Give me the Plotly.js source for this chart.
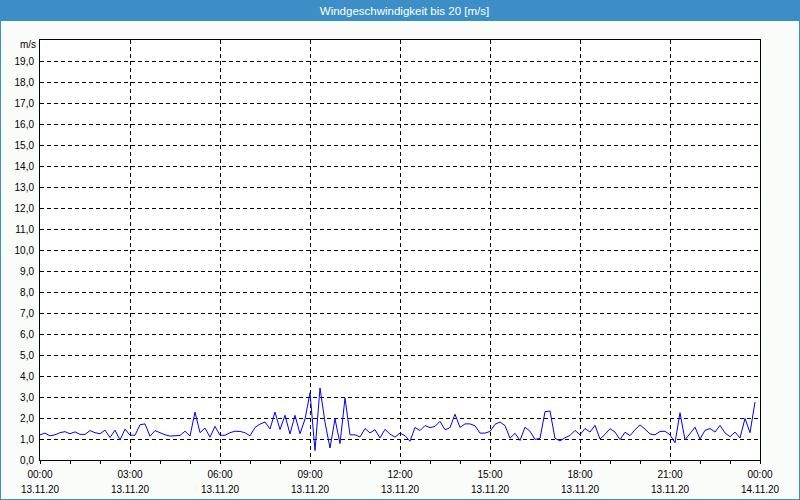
<!DOCTYPE html>
<html>
<head>
<meta charset="utf-8">
<script src="https://cdn.plot.ly/plotly-3.0.1.min.js"></script>
<style>
html,body{margin:0;padding:0;background:#fafcfa;}
#chart{width:800px;height:500px;}
</style>
</head>
<body>
<div id="chart"></div>
<script>
// Wind speed, 10-minute samples starting 13.11.20 00:00 (m/s)
const startDay = '2020-11-13';
const stepMinutes = 10;
const windSpeed = [
  1.20, 1.28, 1.15, 1.20, 1.30, 1.35, 1.25, 1.34, 1.22, 1.22, 1.40, 1.30,
  1.25, 1.42, 1.07, 1.42, 0.95, 1.47, 1.18, 1.18, 1.68, 1.72, 1.13, 1.40,
  1.30, 1.20, 1.14, 1.15, 1.17, 1.37, 1.14, 2.28, 1.30, 1.52, 1.09, 1.60,
  1.18, 1.18, 1.30, 1.37, 1.36, 1.30, 1.15, 1.55, 1.71, 1.81, 1.48, 2.28,
  1.45, 2.13, 1.24, 2.13, 1.25, 1.95, 3.20, 0.45, 3.43, 1.80, 0.57, 1.96,
  0.78, 2.95, 1.20, 1.20, 1.10, 1.50, 1.29, 1.44, 1.05, 1.46, 1.23, 1.09,
  1.28, 1.16, 0.89, 1.55, 1.40, 1.64, 1.54, 1.60, 1.84, 1.44, 1.54, 2.18,
  1.55, 1.72, 1.72, 1.63, 1.28, 1.28, 1.36, 1.70, 1.81, 1.64, 1.04, 1.27,
  0.93, 1.56, 1.37, 0.98, 1.03, 2.30, 2.33, 1.03, 0.91, 1.06, 1.17, 1.41,
  1.20, 1.50, 1.33, 1.65, 1.00, 1.22, 1.49, 1.33, 0.97, 1.32, 1.16, 1.44,
  1.67, 1.47, 1.24, 1.20, 1.36, 1.37, 1.20, 0.82, 2.25, 0.96, 1.24, 1.56,
  1.00, 1.41, 1.50, 1.33, 1.65, 1.29, 1.11, 1.33, 1.05, 1.98, 1.30, 2.76
];

const xTickVals = [
  '2020-11-13 00:00', '2020-11-13 03:00', '2020-11-13 06:00', '2020-11-13 09:00',
  '2020-11-13 12:00', '2020-11-13 15:00', '2020-11-13 18:00', '2020-11-13 21:00',
  '2020-11-14 00:00'
];
const xTimeLabels = ['00:00','03:00','06:00','09:00','12:00','15:00','18:00','21:00','00:00'];
const xDateLabels = ['13.11.20','13.11.20','13.11.20','13.11.20','13.11.20','13.11.20','13.11.20','13.11.20','14.11.20'];

const yTickVals = [0,1,2,3,4,5,6,7,8,9,10,11,12,13,14,15,16,17,18,19];
const yTickText = ['0,0','1,0','2,0','3,0','4,0','5,0','6,0','7,0','8,0','9,0',
  '10,0','11,0','12,0','13,0','14,0','15,0','16,0','17,0','18,0','19,0'];
const yUnit = 'm/s';
const chartTitle = 'Windgeschwindigkeit bis 20 [m/s]';

function pad2(n){ return (n < 10 ? '0' : '') + n; }
const times = windSpeed.map(function(_, i){
  const m = i * stepMinutes;
  return startDay + ' ' + pad2(Math.floor(m / 60)) + ':' + pad2(m % 60);
});

const FONT = 'Liberation Sans, Arial, sans-serif';
const BLUE = '#3c8fc6';
const L = 40, R = 40, T = 40, B = 40, W = 800, H = 500;
const pw = W - L - R, ph = H - T - B;

const xTickText = xTimeLabels.map(function(t, i){
  return '<span style="font-size:10px">' + t + '</span><br><span style="font-size:10px">' + xDateLabels[i] + '</span>';
});

const trace = {
  x: times,
  y: windSpeed,
  type: 'scatter',
  mode: 'lines',
  line: {color: '#0000ff', width: 1},
  hoverinfo: 'x+y'
};

const layout = {
  width: W, height: H,
  margin: {l: L, r: R, t: T, b: B, pad: 0},
  paper_bgcolor: '#fafcfa',
  plot_bgcolor: '#ffffff',
  showlegend: false,
  font: {family: FONT, size: 10, color: '#000'},
  title: {
    text: chartTitle,
    font: {family: FONT, size: 11.5, color: '#ffffff'},
    xref: 'container', x: 0.5056, xanchor: 'center',
    yref: 'container', y: 1 - 10.5 / H, yanchor: 'middle'
  },
  xaxis: {
    type: 'date',
    range: ['2020-11-13 00:00', '2020-11-14 00:00'],
    tickmode: 'array',
    tickvals: xTickVals,
    ticktext: xTickText,
    ticks: 'outside', ticklen: 3, tickcolor: '#000', tickwidth: 1,
    tickfont: {family: FONT, size: 11.5, color: '#000'},
    showgrid: true, gridcolor: '#000', gridwidth: 1, griddash: '4px,3px',
    showline: true, mirror: true, linecolor: '#000', linewidth: 1,
    zeroline: false, fixedrange: true,
    minor: {
      tickmode: 'linear', tick0: '2020-11-13 00:00', dtick: 3600000,
      ticks: 'outside', ticklen: 3, tickcolor: '#000', tickwidth: 1,
      showgrid: false
    }
  },
  yaxis: {
    range: [0, 20],
    tickmode: 'array',
    tickvals: yTickVals,
    ticktext: yTickText,
    ticks: '', ticklabelstandoff: 3,
    tickfont: {family: FONT, size: 10, color: '#000'},
    showgrid: true, gridcolor: '#000', gridwidth: 1, griddash: '4px,3px',
    showline: true, mirror: true, linecolor: '#000', linewidth: 1,
    zeroline: false, fixedrange: true
  },
  annotations: [{
    text: yUnit, showarrow: false,
    xref: 'paper', x: 0, xshift: -2, xanchor: 'right',
    yref: 'paper', y: 1, yshift: -4, yanchor: 'middle',
    font: {family: FONT, size: 10, color: '#000'}
  }],
  shapes: [
    {
      type: 'rect', xref: 'paper', yref: 'paper', layer: 'below',
      x0: -L / pw, x1: 1 + R / pw, y0: 1 + (T - 21) / ph, y1: 1 + T / ph,
      fillcolor: BLUE, line: {width: 0}
    },
    {
      type: 'rect', xref: 'paper', yref: 'paper', layer: 'above',
      x0: -L / pw, x1: 1 + R / pw, y0: -B / ph, y1: 1 + T / ph,
      fillcolor: 'rgba(0,0,0,0)', line: {color: BLUE, width: 2}
    }
  ]
};

Plotly.newPlot('chart', [trace], layout, {displayModeBar: false, staticPlot: true});
</script>
</body>
</html>
